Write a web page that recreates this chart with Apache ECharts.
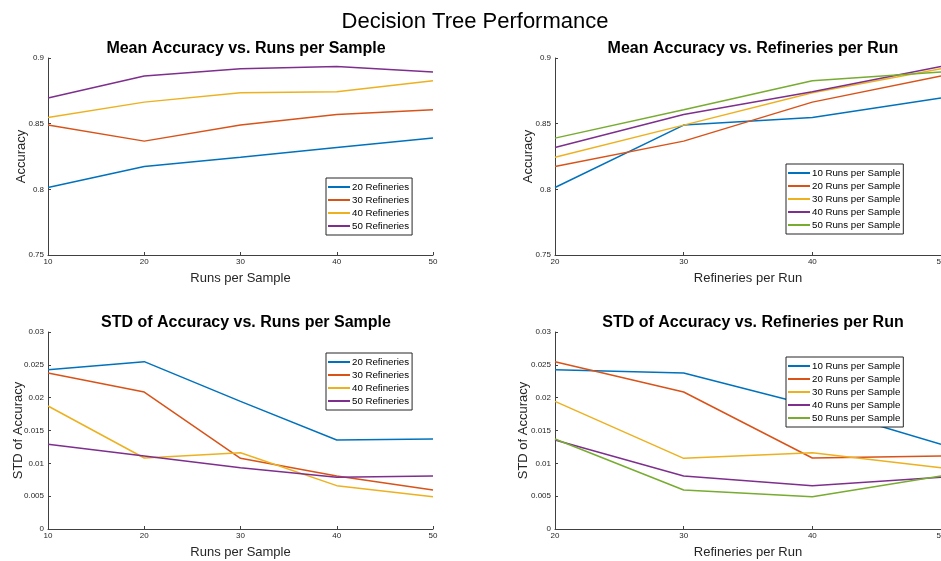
<!DOCTYPE html>
<html>
<head>
<meta charset="utf-8">
<script src="https://cdn.jsdelivr.net/npm/echarts@6/dist/echarts.min.js"></script>
<style>html,body{margin:0;padding:0;background:#fff;}#c{width:941px;height:561px;}</style>
</head>
<body>
<div id="c"></div>
<script>
// Data
const runsPerSample = [10, 20, 30, 40, 50];
const refineriesPerRun = [20, 30, 40, 50];

// Mean accuracy, one array per refinery count (values at runs 10..50)
const meanAcc20Ref = [0.8014, 0.8174, 0.8245, 0.8319, 0.8390];
const meanAcc30Ref = [0.8489, 0.8367, 0.8489, 0.8570, 0.8606];
const meanAcc40Ref = [0.8547, 0.8664, 0.8736, 0.8743, 0.8827];
const meanAcc50Ref = [0.8695, 0.8863, 0.8919, 0.8936, 0.8893];

// STD of accuracy, one array per refinery count (values at runs 10..50)
const stdAcc20Ref = [0.02426, 0.02548, 0.01944, 0.01355, 0.01370];
const stdAcc30Ref = [0.02376, 0.02086, 0.01076, 0.00807, 0.00594];
const stdAcc40Ref = [0.01873, 0.01081, 0.01162, 0.00660, 0.00492];
const stdAcc50Ref = [0.01289, 0.01112, 0.00934, 0.00787, 0.00807];

const refLabels = ['20 Refineries', '30 Refineries', '40 Refineries', '50 Refineries'];
const runLabels = ['10 Runs per Sample', '20 Runs per Sample', '30 Runs per Sample', '40 Runs per Sample', '50 Runs per Sample'];

const meanTicks = [0.75, 0.8, 0.85, 0.9];
const stdTicks = [0, 0.005, 0.01, 0.015, 0.02, 0.025, 0.03];

const colors = ['#0072BD', '#D95319', '#EDB120', '#7E2F8E', '#77AC30'];
const FONT = 'Liberation Sans, Arial, Helvetica, sans-serif';

const meanByRef = [meanAcc20Ref, meanAcc30Ref, meanAcc40Ref, meanAcc50Ref];
const stdByRef = [stdAcc20Ref, stdAcc30Ref, stdAcc40Ref, stdAcc50Ref];

const grids = [
  {left: 48, top: 58, width: 385, height: 197, outerBoundsMode: 'none', containLabel: false},
  {left: 555, top: 58, width: 386, height: 197, outerBoundsMode: 'none', containLabel: false},
  {left: 48, top: 332, width: 385, height: 197, outerBoundsMode: 'none', containLabel: false},
  {left: 555, top: 332, width: 386, height: 197, outerBoundsMode: 'none', containLabel: false}
];

const axisColor = '#404040';
function xAxis(i, xs, name) {
  return {
    type: 'value', gridIndex: i, min: xs[0], max: xs[xs.length - 1], interval: 10,
    name: name, nameLocation: 'middle', nameGap: 17, nameMoveOverlap: false,
    nameTextStyle: {fontFamily: FONT, fontSize: 13, color: '#262626'},
    axisLine: {show: true, onZero: false, lineStyle: {color: axisColor, width: 1}},
    axisTick: {show: true, inside: true, length: 3, lineStyle: {color: axisColor}},
    axisLabel: {fontFamily: FONT, fontSize: 8, color: '#262626', margin: 3, showMaxLabel: true, showMinLabel: true, hideOverlap: false},
    splitLine: {show: false}
  };
}
function yAxis(i, min, max, interval, name, gap) {
  return {
    type: 'value', gridIndex: i, min: min, max: max, interval: interval,
    name: name, nameLocation: 'middle', nameGap: gap, nameRotate: 90, nameMoveOverlap: false,
    nameTextStyle: {fontFamily: FONT, fontSize: 13, color: '#262626'},
    axisLine: {show: true, onZero: false, lineStyle: {color: axisColor, width: 1}},
    axisTick: {show: true, inside: true, length: 3, lineStyle: {color: axisColor}},
    axisLabel: {fontFamily: FONT, fontSize: 8, color: '#262626', margin: 4,
      formatter: v => String(+v.toFixed(4))},
    splitLine: {show: false}
  };
}

const series = [];
refLabels.forEach((lab, k) => {
  series.push({name: lab, type: 'line', xAxisIndex: 0, yAxisIndex: 0, symbol: 'none',
    color: colors[k], lineStyle: {width: 1.5}, data: runsPerSample.map((x, j) => [x, meanByRef[k][j]])});
});
runLabels.forEach((lab, j) => {
  series.push({name: lab, type: 'line', xAxisIndex: 1, yAxisIndex: 1, symbol: 'none',
    color: colors[j], lineStyle: {width: 1.5}, data: refineriesPerRun.map((x, k) => [x, meanByRef[k][j]])});
});
refLabels.forEach((lab, k) => {
  series.push({name: lab, type: 'line', xAxisIndex: 2, yAxisIndex: 2, symbol: 'none',
    color: colors[k], lineStyle: {width: 1.5}, data: runsPerSample.map((x, j) => [x, stdByRef[k][j]])});
});
runLabels.forEach((lab, j) => {
  series.push({name: lab, type: 'line', xAxisIndex: 3, yAxisIndex: 3, symbol: 'none',
    color: colors[j], lineStyle: {width: 1.5}, data: refineriesPerRun.map((x, k) => [x, stdByRef[k][j]])});
});

function legend(names, left, top) {
  return {
    orient: 'vertical', left: left, top: top, data: names,
    borderColor: '#262626', borderWidth: 1, padding: [4, 3, 4, 2],
    icon: 'rect', itemWidth: 22, itemHeight: 2, itemGap: 3, selectedMode: false,
    textStyle: {fontFamily: FONT, fontSize: 9.7, color: '#000', lineHeight: 10, padding: [0, 0, 0, -3]},
    backgroundColor: '#fff'
  };
}

const subTitle = (text, cx, top) => ({
  text: text, left: cx, top: top, textAlign: 'center',
  textStyle: {fontFamily: FONT, fontSize: 16, fontWeight: 'bold', color: '#000'}
});

const option = {
  animation: false,
  backgroundColor: '#fff',
  title: [
    {text: 'Decision Tree Performance', left: 470, top: 6, textAlign: 'center',
      textStyle: {fontFamily: FONT, fontSize: 22, fontWeight: 'normal', color: '#000'}},
    subTitle('Mean Accuracy vs. Runs per Sample', 241, 36),
    subTitle('Mean Accuracy vs. Refineries per Run', 748, 36),
    subTitle('STD of Accuracy vs. Runs per Sample', 241, 310),
    subTitle('STD of Accuracy vs. Refineries per Run', 748, 310)
  ],
  grid: grids,
  xAxis: [
    xAxis(0, runsPerSample, 'Runs per Sample'),
    xAxis(1, refineriesPerRun, 'Refineries per Run'),
    xAxis(2, runsPerSample, 'Runs per Sample'),
    xAxis(3, refineriesPerRun, 'Refineries per Run')
  ],
  yAxis: [
    yAxis(0, meanTicks[0], meanTicks[meanTicks.length - 1], 0.05, 'Accuracy', 20),
    yAxis(1, meanTicks[0], meanTicks[meanTicks.length - 1], 0.05, 'Accuracy', 20),
    yAxis(2, stdTicks[0], stdTicks[stdTicks.length - 1], 0.005, 'STD of Accuracy', 23),
    yAxis(3, stdTicks[0], stdTicks[stdTicks.length - 1], 0.005, 'STD of Accuracy', 25)
  ],
  legend: [
    legend(refLabels, 326, 178),
    legend(runLabels, 786, 164),
    legend(refLabels, 326, 353),
    legend(runLabels, 786, 357)
  ],
  series: series
};

echarts.init(document.getElementById('c'), null, {renderer: 'canvas'}).setOption(option);
</script>
</body>
</html>
